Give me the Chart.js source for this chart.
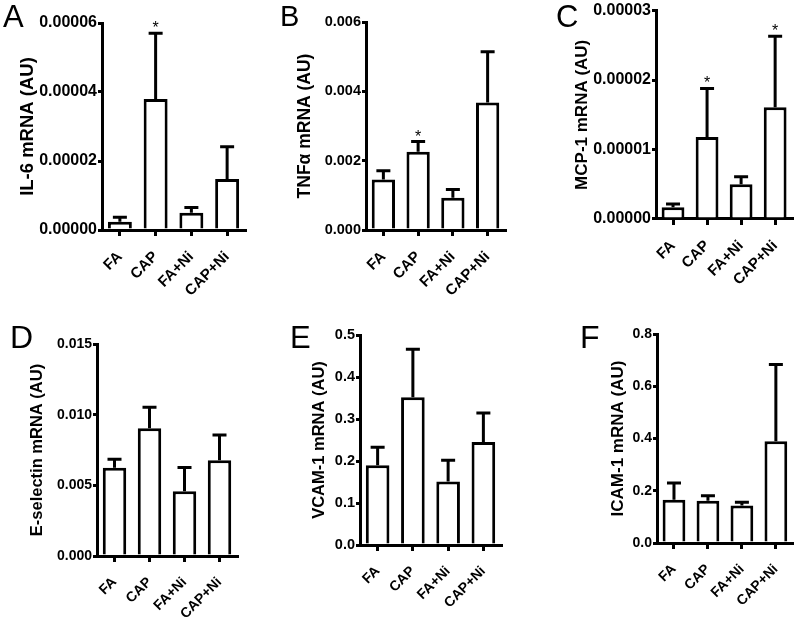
<!DOCTYPE html>
<html>
<head>
<meta charset="utf-8">
<script src="https://cdn.jsdelivr.net/npm/chart.js@4.4.1/dist/chart.umd.min.js"></script>
<style>
  body { margin: 0; background: #fff; }
  #wrap { position: relative; width: 800px; height: 618px; overflow: hidden; }
  canvas { position: absolute; left: 0; top: 0; }
</style>
</head>
<body>
<div id="wrap">
  <canvas id="chartA" width="800" height="618"></canvas>
  <canvas id="chartB" width="800" height="618"></canvas>
  <canvas id="chartC" width="800" height="618"></canvas>
  <canvas id="chartD" width="800" height="618"></canvas>
  <canvas id="chartE" width="800" height="618"></canvas>
  <canvas id="chartF" width="800" height="618"></canvas>
</div>
<script>
const categories = ["FA", "CAP", "FA+Ni", "CAP+Ni"];

// mean and SEM per group
const il6Mean = [0.0000024, 0.000038, 0.0000050, 0.0000148];
const il6Sem = [0.0000013, 0.000019, 0.0000015, 0.0000093];
const il6Sig = [false, true, false, false];
const il6Ticks = ["0.00000", "0.00002", "0.00004", "0.00006"];

const tnfMean = [0.00146, 0.00226, 0.00093, 0.00368];
const tnfSem = [0.00025, 0.00029, 0.00024, 0.00146];
const tnfSig = [false, true, false, false];
const tnfTicks = ["0.000", "0.002", "0.004", "0.006"];

const mcpMean = [0.0000017, 0.0000118, 0.0000050, 0.0000161];
const mcpSem = [0.00000045, 0.0000070, 0.0000011, 0.0000102];
const mcpSig = [false, true, false, true];
const mcpTicks = ["0.00000", "0.00001", "0.00002", "0.00003"];

const eselMean = [0.00625, 0.00904, 0.00459, 0.00677];
const eselSem = [0.00059, 0.00149, 0.00168, 0.00180];
const eselSig = [false, false, false, false];
const eselTicks = ["0.000", "0.005", "0.010", "0.015"];

const vcamMean = [0.190, 0.352, 0.151, 0.245];
const vcamSem = [0.043, 0.114, 0.051, 0.069];
const vcamSig = [false, false, false, false];
const vcamTicks = ["0.0", "0.1", "0.2", "0.3", "0.4", "0.5"];

const icamMean = [0.166, 0.162, 0.144, 0.389];
const icamSem = [0.064, 0.019, 0.012, 0.294];
const icamSig = [false, false, false, false];
const icamTicks = ["0.0", "0.2", "0.4", "0.6", "0.8"];

const FONT = '"Liberation Sans", Arial, sans-serif';

// Draws the upper SEM whisker, the asterisks and the panel letter
const extrasPlugin = {
  id: "extras",
  afterDatasetsDraw(chart) {
    const ctx = chart.ctx;
    const ds = chart.data.datasets[0];
    const meta = chart.getDatasetMeta(0);
    const y = chart.scales.y;
    ctx.save();
    ctx.strokeStyle = "#000";
    ctx.lineWidth = 3;
    ctx.lineCap = "butt";
    meta.data.forEach((bar, i) => {
      const top = y.getPixelForValue(ds.data[i] + ds.sem[i]);
      ctx.beginPath();
      ctx.moveTo(bar.x, bar.y);
      ctx.lineTo(bar.x, top);
      ctx.moveTo(bar.x - 7, top);
      ctx.lineTo(bar.x + 7, top);
      ctx.stroke();
      if (ds.sig[i]) {
        ctx.fillStyle = "#000";
        ctx.font = "16px " + FONT;
        ctx.textAlign = "center";
        ctx.textBaseline = "alphabetic";
        ctx.fillText("*", bar.x, top);
      }
    });
    const p = chart.options.panel;
    ctx.fillStyle = "#000";
    ctx.font = p.letterSize + "px " + FONT;
    ctx.textAlign = "left";
    ctx.textBaseline = "alphabetic";
    ctx.fillText(p.letter, p.letterX, p.letterY);
    ctx.restore();
  }
};

function makePanel(id, mean, sem, sig, ticks, yTitle, p) {
  const padLeft = p.titleX - p.titleSize / 2;
  const yWidth = p.L - padLeft;
  const xHeight = 618 - p.B;   // x scale box reaches the page bottom so rotated labels are not clipped
  const tickValues = ticks.map(t => parseFloat(t));

  return new Chart(document.getElementById(id), {
    type: "bar",
    data: {
      labels: categories,
      datasets: [{
        data: mean,
        sem: sem,
        sig: sig,
        backgroundColor: "#fff",
        borderColor: "#000",
        borderWidth: 3,
        borderSkipped: "bottom",
        barPercentage: 0.67,
        categoryPercentage: 1.0
      }]
    },
    plugins: [extrasPlugin],
    options: {
      panel: p,
      responsive: false,
      animation: false,
      devicePixelRatio: 1,
      layout: {
        padding: { left: padLeft, top: p.T, right: 800 - p.R, bottom: 0 }
      },
      plugins: { legend: { display: false }, tooltip: { enabled: false } },
      scales: {
        x: {
          offset: true,
          grid: { display: true, drawOnChartArea: false, offset: false, tickLength: 6, lineWidth: 3, color: "#000" },
          border: { display: true, color: "#000", width: 3 },
          ticks: {
            color: "#000",
            font: { family: FONT, size: p.xTickSize, weight: "bold" },
            minRotation: 45, maxRotation: 45, padding: 12
          },
          afterFit: s => { s.height = xHeight; }
        },
        y: {
          min: tickValues[0],
          max: tickValues[tickValues.length - 1],
          grid: { display: true, drawOnChartArea: false, tickLength: 4, lineWidth: 3, color: "#000" },
          border: { display: true, color: "#000", width: 3 },
          afterBuildTicks: s => { s.ticks = tickValues.map(v => ({ value: v })); },
          ticks: {
            color: "#000",
            padding: 1,
            font: { family: FONT, size: p.tickSize, weight: "bold" },
            callback: (v, i) => ticks[i]
          },
          title: {
            display: true,
            text: yTitle,
            color: "#000",
            padding: 0,
            font: { family: FONT, size: p.titleSize, weight: "bold", lineHeight: 1 }
          },
          afterFit: s => { s.width = yWidth; }
        }
      }
    }
  });
}

makePanel("chartA", il6Mean, il6Sem, il6Sig, il6Ticks, "IL-6 mRNA (AU)",
  { letter: "A", letterX: 3, letterY: 27, letterSize: 31, L: 102, T: 23, R: 245, B: 230, titleX: 28, titleSize: 18.5, tickSize: 16, xTickSize: 15 });
makePanel("chartB", tnfMean, tnfSem, tnfSig, tnfTicks, "TNFα mRNA (AU)",
  { letter: "B", letterX: 280, letterY: 26, letterSize: 29, L: 366, T: 22, R: 505, B: 230, titleX: 305, titleSize: 17.5, tickSize: 14.5, xTickSize: 15 });
makePanel("chartC", mcpMean, mcpSem, mcpSig, mcpTicks, "MCP-1 mRNA (AU)",
  { letter: "C", letterX: 556, letterY: 27, letterSize: 31, L: 656, T: 10, R: 799, B: 219, titleX: 582, titleSize: 17, tickSize: 16, xTickSize: 15 });
makePanel("chartD", eselMean, eselSem, eselSig, eselTicks, "E-selectin mRNA (AU)",
  { letter: "D", letterX: 10, letterY: 348, letterSize: 32, L: 97, T: 344, R: 237, B: 556, titleX: 37, titleSize: 16.5, tickSize: 14, xTickSize: 14 });
makePanel("chartE", vcamMean, vcamSem, vcamSig, vcamTicks, "VCAM-1 mRNA (AU)",
  { letter: "E", letterX: 290, letterY: 348, letterSize: 31, L: 360, T: 335, R: 501, B: 545, titleX: 319, titleSize: 16.5, tickSize: 14.5, xTickSize: 14 });
makePanel("chartF", icamMean, icamSem, icamSig, icamTicks, "ICAM-1 mRNA (AU)",
  { letter: "F", letterX: 580, letterY: 348, letterSize: 32, L: 657, T: 334, R: 798, B: 543, titleX: 618, titleSize: 17, tickSize: 14, xTickSize: 14 });
</script>
</body>
</html>
